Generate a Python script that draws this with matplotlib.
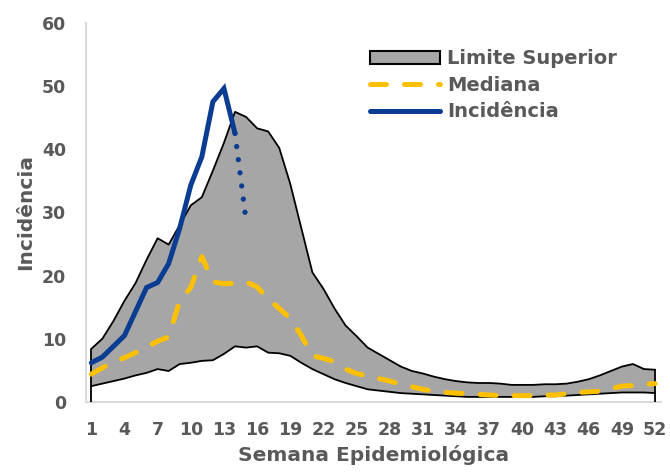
import matplotlib
matplotlib.use('Agg')
import matplotlib.pyplot as plt
from matplotlib.patches import Patch
from matplotlib.lines import Line2D

plt.rcParams['font.family'] = ['DejaVu Sans']
plt.rcParams['font.weight'] = 'bold'

semanas = list(range(1, 53))

# limite inferior e superior do canal endemico
limite_inferior = [2.5, 2.9, 3.3, 3.7, 4.2, 4.6, 5.2, 4.9, 6.0, 6.2,
                   6.5, 6.6, 7.6, 8.8, 8.6, 8.8, 7.8, 7.7, 7.3, 6.2,
                   5.2, 4.4, 3.6, 3.0, 2.5, 2.0, 1.8, 1.6, 1.4, 1.3,
                   1.2, 1.1, 1.0, 0.9, 0.8, 0.8, 0.8, 0.8, 0.8, 0.8,
                   0.8, 0.9, 0.9, 1.0, 1.1, 1.2, 1.3, 1.4, 1.5, 1.5,
                   1.5, 1.4]
limite_superior = [8.4, 10.0, 12.8, 16.0, 18.8, 22.5, 25.9, 24.9, 28.0, 31.1,
                   32.4, 36.6, 41.0, 45.9, 45.1, 43.3, 42.8, 40.2, 34.5, 27.5,
                   20.5, 17.9, 14.8, 12.1, 10.4, 8.6, 7.6, 6.6, 5.6, 4.9,
                   4.5, 4.0, 3.6, 3.3, 3.1, 3.0, 3.0, 2.9, 2.7, 2.7,
                   2.7, 2.8, 2.8, 2.9, 3.2, 3.6, 4.2, 4.9, 5.6, 6.0,
                   5.2, 5.1]
mediana = [4.4, 5.4, 6.3, 7.0, 7.8, 8.7, 9.6, 10.3, 16.0, 18.1,
           23.0, 19.0, 18.7, 18.8, 19.0, 18.2, 16.3, 14.8, 13.2, 10.5,
           7.3, 6.9, 6.4, 5.2, 4.5, 4.1, 3.7, 3.3, 2.8, 2.4,
           2.0, 1.7, 1.5, 1.4, 1.3, 1.2, 1.1, 1.0, 1.0, 1.0,
           1.0, 1.1, 1.1, 1.3, 1.5, 1.6, 1.7, 2.1, 2.5, 2.6,
           2.8, 2.9]
incidencia = [6.2, 7.1, 8.8, 10.5, 14.3, 18.1, 18.9, 21.9, 27.5, 34.3,
              38.8, 47.5, 49.6, 42.5, 28.7]
n_confirmadas = 14  # semanas com dado fechado (linha continua)

cinza_txt = '#595959'
amarelo = '#ffc000'
azul = '#0a3d91'

fig = plt.figure(figsize=(6.7, 4.74), dpi=100)
ax = fig.add_axes([0.128, 0.152, 0.858, 0.800])

# area do canal
ax.fill_between(semanas, 0, limite_superior, facecolor='#a6a6a6', edgecolor='none', zorder=1)
ax.fill_between(semanas, 0, limite_inferior, facecolor='white', edgecolor='none', zorder=2)
ax.plot(semanas, limite_superior, color='black', lw=1.3, zorder=3)
ax.plot(semanas, limite_inferior, color='black', lw=1.3, zorder=3)
ax.vlines([semanas[0], semanas[-1]], 0, [limite_superior[0], limite_superior[-1]],
          color='black', lw=1.3, zorder=3)

# mediana
ax.plot(semanas, mediana, color=amarelo, lw=3.6, dashes=(3.2, 3.6),
        dash_capstyle='round', zorder=4)

# incidencia
ax.plot(semanas[:n_confirmadas], incidencia[:n_confirmadas], color=azul, lw=3.6,
        solid_capstyle='round', solid_joinstyle='miter', zorder=5)
ax.plot(semanas[n_confirmadas - 1:len(incidencia)], incidencia[n_confirmadas - 1:],
        color=azul, lw=3.8, dashes=(0.01, 2.5), dash_capstyle='round', zorder=5)

ax.set_xlim(0.5, 52.5)
ax.set_ylim(0, 60)
ax.set_xticks(semanas[::3])
ax.set_yticks(range(0, 61, 10))
ax.tick_params(length=0, pad=14, labelsize=12.5, labelcolor=cinza_txt)
for lbl in ax.get_xticklabels() + ax.get_yticklabels():
    lbl.set_fontweight('bold')

for s in ['top', 'right']:
    ax.spines[s].set_visible(False)
for s in ['left', 'bottom']:
    ax.spines[s].set_color('#d9d9d9')
    ax.spines[s].set_linewidth(1.5)

ax.set_xlabel('Semana Epidemiológica', fontsize=14.5, color=cinza_txt, fontweight='bold', labelpad=4)
ax.set_ylabel('Incidência', fontsize=14.5, color=cinza_txt, fontweight='bold', labelpad=5)

handles = [
    Patch(facecolor='#a6a6a6', edgecolor='black', linewidth=1.5),
    Line2D([0], [0], color=amarelo, lw=3.6, dashes=(3.2, 3.6), dash_capstyle='round'),
    Line2D([0], [0], color=azul, lw=3.6, solid_capstyle='round'),
]
leg = ax.legend(handles, ['Limite Superior', 'Mediana', 'Incidência'],
                loc='upper left', bbox_to_anchor=(0.481, 0.95), frameon=False,
                fontsize=14, handlelength=3.6, handleheight=0.65,
                handletextpad=0.35, labelspacing=0.38, borderaxespad=0)
for t in leg.get_texts():
    t.set_color(cinza_txt)
    t.set_fontweight('bold')

fig.savefig('out.png', dpi=100)
